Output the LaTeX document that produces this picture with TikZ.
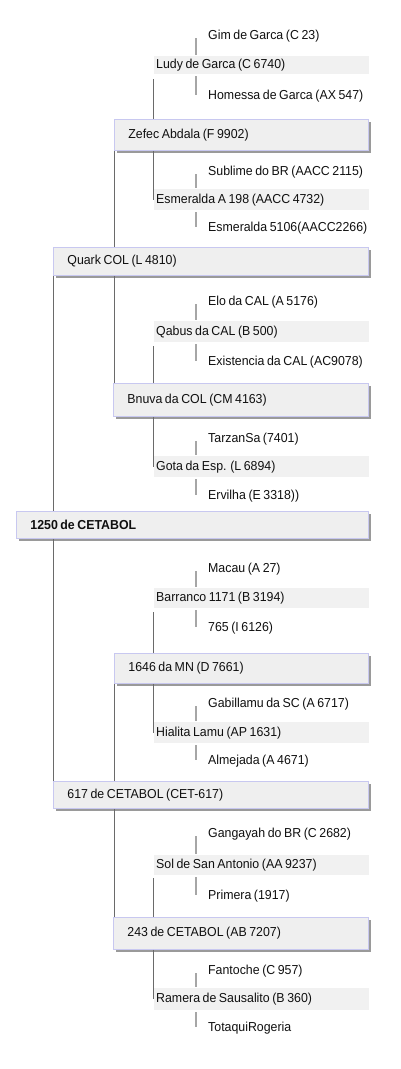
\documentclass[tikz,border=0pt]{standalone}
\usepackage{fontspec}
\setmainfont[FakeStretch=0.95, WordSpace=0.75]{Liberation Sans}
\usetikzlibrary{shadows,calc}
\definecolor{boxfill}{HTML}{EFEFEF}
\definecolor{smallfill}{HTML}{F1F1F1}
\definecolor{boxborder}{HTML}{C8C8F0}
\definecolor{shadowc}{HTML}{9A9A9A}
\definecolor{mainline}{HTML}{6A6A6A}
\definecolor{shortline}{HTML}{A6A6A6}
\definecolor{txt}{HTML}{101010}
\newcommand{\bx}[2]{\makebox[#1pt][l]{#2}}
\tikzset{
  every node/.style={font=\fontsize{13}{15}\selectfont, text=txt},
  bigbox/.style={draw=boxborder, line width=0.8pt, fill=boxfill, anchor=north west,
    inner xsep=14pt, inner ysep=0pt,
    general shadow={fill=shadowc, shadow xshift=3pt, shadow yshift=-3pt}},
  smallbox/.style={fill=smallfill, anchor=north west, inner xsep=2pt, inner ysep=0pt,
    minimum height=#1},
  leaf/.style={anchor=west, inner sep=0pt},
  mline/.style={draw=mainline, line width=0.9pt},
  sline/.style={draw=shortline, line width=1.2pt},
}
\begin{document}
\begin{tikzpicture}[x=1pt, y=-1pt]
\useasboundingbox (0,0) rectangle (400,1069);
\coordinate (k1) at (53,0);
\coordinate (k2) at (114,0);
\coordinate (k3) at (153,0);
\coordinate (k4) at (196,0);

% big boxes
\node[bigbox, minimum height=31pt] (zefec) at (114,119) {\bx{226}{Zefec Abdala (F 9902)}};
\node[bigbox, minimum height=28pt] (quark) at (53,247) {\bx{287}{Quark COL (L 4810)}};
\node[bigbox, minimum height=33pt] (bnuva) at (113,383) {\bx{227}{Bnuva da COL (CM 4163)}};
\node[bigbox, minimum height=27pt] (root) at (16,511) {\bx{324}{\textbf{1250 de CETABOL}}};
\node[bigbox, minimum height=30pt] (m1646) at (114,653) {\bx{226}{1646 da MN (D 7661)}};
\node[bigbox, minimum height=27pt] (c617) at (53,781) {\bx{287}{617 de CETABOL (CET-617)}};
\node[bigbox, minimum height=32pt] (c243) at (113,917) {\bx{227}{243 de CETABOL (AB 7207)}};

% small boxes
\node[smallbox=18pt] (ludy) at (154,56) {\bx{211}{Ludy de Garca (C 6740)}};
\node[smallbox=21pt] (esm) at (154,189) {\bx{211}{Esmeralda A 198 (AACC 4732)}};
\node[smallbox=21pt] (qabus) at (154,321) {\bx{211}{Qabus da CAL (B 500)}};
\node[smallbox=21pt] (gota) at (154,456) {\bx{211}{Gota da Esp. (L 6894)}};
\node[smallbox=20pt] (barr) at (154,588) {\bx{211}{Barranco 1171 (B 3194)}};
\node[smallbox=21pt] (hial) at (154,722) {\bx{211}{Hialita Lamu (AP 1631)}};
\node[smallbox=20pt] (sol) at (154,855) {\bx{211}{Sol de San Antonio (AA 9237)}};
\node[smallbox=22pt] (ramera) at (154,988) {\bx{211}{Ramera de Sausalito (B 360)}};

% leaves
\node[leaf] (gim) at (208,36) {Gim de Garca (C 23)};
\node[leaf] (homessa) at (208,96) {Homessa de Garca (AX 547)};
\node[leaf] (sublime) at (208,172) {Sublime do BR (AACC 2115)};
\node[leaf] (esm5106) at (208,228) {Esmeralda 5106(AACC2266)};
\node[leaf] (elo) at (208,302) {Elo da CAL (A 5176)};
\node[leaf] (exist) at (208,362) {Existencia da CAL (AC9078)};
\node[leaf] (tarzan) at (208,439) {TarzanSa (7401)};
\node[leaf] (ervilha) at (208,496) {Ervilha (E 3318))};
\node[leaf] (macau) at (208,569) {Macau (A 27)};
\node[leaf] (i765) at (208,628) {765 (I 6126)};
\node[leaf] (gabi) at (208,704) {Gabillamu da SC (A 6717)};
\node[leaf] (almej) at (208,761) {Almejada (A 4671)};
\node[leaf] (ganga) at (208,834) {Gangayah do BR (C 2682)};
\node[leaf] (primera) at (208,896) {Primera (1917)};
\node[leaf] (fanto) at (208,971) {Fantoche (C 957)};
\node[leaf] (totaqui) at (208,1028) {TotaquiRogeria};

% short connectors
\foreach \b/\u/\d in {ludy/gim/homessa, esm/sublime/esm5106, qabus/elo/exist, gota/tarzan/ervilha,
  barr/macau/i765, hial/gabi/almej, sol/ganga/primera, ramera/fanto/totaqui}{
  \draw[sline] ($(\u.west -| k4)+(0,2)$) -- ($(\b.north -| k4)+(0,-1)$);
  \draw[sline] ($(\b.south -| k4)+(0,2)$) -- ($(\d.west -| k4)+(0,-1)$);
}

% long connectors
\draw[mline] ($(ludy.south -| k3)+(0,5)$) -- (zefec.north -| k3);
\draw[mline] (zefec.south -| k3) -- (esm.west -| k3);
\draw[mline] (zefec.south -| k2) -- (quark.north -| k2);
\draw[mline] (quark.south -| k2) -- (bnuva.north -| k2);
\draw[mline] ($(qabus.south -| k3)+(0,4)$) -- (bnuva.north -| k3);
\draw[mline] (bnuva.south -| k3) -- (gota.west -| k3);
\draw[mline] (quark.south -| k1) -- (root.north -| k1);
\draw[mline] (root.south -| k1) -- (c617.north -| k1);
\draw[mline] ($(barr.south -| k3)+(0,4)$) -- (m1646.north -| k3);
\draw[mline] (m1646.south -| k3) -- (hial.west -| k3);
\draw[mline] (m1646.south -| k2) -- (c617.north -| k2);
\draw[mline] (c617.south -| k2) -- (c243.north -| k2);
\draw[mline] ($(sol.south -| k3)+(0,3)$) -- (c243.north -| k3);
\draw[mline] (c243.south -| k3) -- (ramera.west -| k3);
\end{tikzpicture}
\end{document}
